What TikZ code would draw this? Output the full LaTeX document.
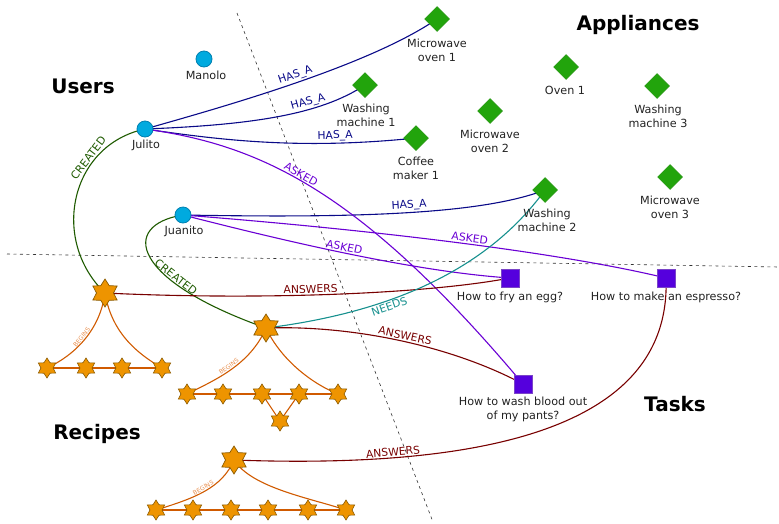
\documentclass[tikz,border=0pt]{standalone}
\usepackage{fontspec}
\setmainfont{DejaVu Sans}
\usetikzlibrary{shapes.geometric,backgrounds}
\definecolor{userfill}{HTML}{00AADF}
\definecolor{userdraw}{HTML}{0080B0}
\definecolor{applfill}{HTML}{22A40C}
\definecolor{appldraw}{HTML}{1E900A}
\definecolor{taskfill}{HTML}{5500DD}
\definecolor{taskdraw}{HTML}{7A44C8}
\definecolor{starfill}{HTML}{EE9400}
\definecolor{stardraw}{HTML}{8A5A00}
\definecolor{hascol}{HTML}{0A0A88}
\definecolor{askcol}{HTML}{6A00D4}
\definecolor{createcol}{HTML}{1E5A00}
\definecolor{anscol}{HTML}{780000}
\definecolor{needcol}{HTML}{16908E}
\definecolor{begcol}{HTML}{D05A00}
\definecolor{beglab}{HTML}{E89050}
\definecolor{txtcol}{HTML}{222222}
\begin{document}
\begin{tikzpicture}[x=1pt,y=-1pt,
  user/.style={circle, fill=userfill, draw=userdraw, line width=0.8pt, minimum size=16pt, inner sep=0pt},
  appl/.style={diamond, fill=applfill, draw=appldraw, line width=0.5pt, minimum width=25pt, minimum height=25pt, inner sep=0pt},
  task/.style={rectangle, fill=taskfill, draw=taskdraw, line width=0.8pt, minimum size=18pt, inner sep=0pt},
  bigstar/.style={star, star points=6, star point ratio=1.65, fill=starfill, draw=stardraw, line width=0.7pt, minimum size=28pt, inner sep=0pt},
  smallstar/.style={star, star points=6, star point ratio=1.65, fill=starfill, draw=stardraw, line width=0.6pt, minimum size=20pt, inner sep=0pt},
  txt/.style={font=\fontsize{11.2}{14}\selectfont, text=txtcol, align=center, inner sep=0pt},
  ttl/.style={font=\fontsize{20}{24}\selectfont\bfseries, text=black, inner sep=0pt},
  elab/.style={font=\fontsize{10.8}{12}\selectfont, sloped, above, inner sep=1.2pt},
  blab/.style={font=\fontsize{6}{7}\selectfont, sloped, above, inner sep=1pt, text=beglab},
  has/.style={draw=hascol, line width=1.1pt},
  ask/.style={draw=askcol, line width=1.1pt},
  cre/.style={draw=createcol, line width=1.1pt},
  ans/.style={draw=anscol, line width=1.1pt},
  need/.style={draw=needcol, line width=1.1pt},
  beg/.style={draw=begcol, line width=1.1pt},
  sep/.style={draw=black!80, line width=0.6pt, dash pattern=on 3pt off 3.5pt}
]
\useasboundingbox (0,0) rectangle (779,523);

% titles
\node[ttl] (tusers) at (83,86) {Users};
\node[ttl] (tappl) at (638,25) {Appliances};
\node[ttl] (trec) at (97,434) {Recipes};
\node[ttl] (ttask) at (675,404) {Tasks};

% separators
\coordinate (s1a) at (237,13);
\coordinate (s1b) at (433,522);
\coordinate (s2a) at (7,254);
\coordinate (s2b) at (779,267);

% users
\node[user] (manolo) at (204,59) {};
\node[txt] (manolot) at (206,75) {Manolo};
\node[user] (julito) at (145,129) {};
\node[txt] (julitot) at (146,145) {Julito};
\node[user] (juanito) at (183,215) {};
\node[txt] (juanitot) at (184,231) {Juanito};

% appliances
\node[appl] (mw1) at (437,19) {};
\node[txt] (mw1t) at (437,50) {Microwave\\oven 1};
\node[appl] (wm1) at (365,85) {};
\node[txt] (wm1t) at (366,115) {Washing\\machine 1};
\node[appl] (cm1) at (416,138) {};
\node[txt] (cm1t) at (416,168) {Coffee\\maker 1};
\node[appl] (mw2) at (490,111) {};
\node[txt] (mw2t) at (490,141) {Microwave\\oven 2};
\node[appl] (ov1) at (566,67) {};
\node[txt] (ov1t) at (565,90) {Oven 1};
\node[appl] (wm3) at (657,86) {};
\node[txt] (wm3t) at (658,116) {Washing\\machine 3};
\node[appl] (wm2) at (545,190) {};
\node[txt] (wm2t) at (547,220) {Washing\\machine 2};
\node[appl] (mw3) at (670,177) {};
\node[txt] (mw3t) at (670,207) {Microwave\\oven 3};

% tasks
\node[task] (egg) at (510,278) {};
\node[txt] (eggt) at (510,297) {How to fry an egg?};
\node[task] (esp) at (666,278) {};
\node[txt] (espt) at (666,297) {How to make an espresso?};
\node[task] (blood) at (523,384) {};
\node[txt] (bloodt) at (523,409) {How to wash blood out\\of my pants?};

% recipes
\node[bigstar] (r1) at (105,293) {};
\node[smallstar] (r1a) at (47,368) {};
\node[smallstar] (r1b) at (86,368) {};
\node[smallstar] (r1c) at (122,368) {};
\node[smallstar] (r1d) at (162,368) {};

\node[bigstar] (r2) at (266,328) {};
\node[smallstar] (r2a) at (187,394) {};
\node[smallstar] (r2b) at (223,394) {};
\node[smallstar] (r2c) at (262,394) {};
\node[smallstar] (r2d) at (299,394) {};
\node[smallstar] (r2e) at (338,394) {};
\node[smallstar] (r2f) at (280,421) {};

\node[bigstar] (r3) at (234,460) {};
\node[smallstar] (r3a) at (156,510) {};
\node[smallstar] (r3b) at (193,510) {};
\node[smallstar] (r3c) at (231,510) {};
\node[smallstar] (r3d) at (268,510) {};
\node[smallstar] (r3e) at (308,510) {};
\node[smallstar] (r3f) at (346,510) {};

\begin{scope}[on background layer]
\draw[sep] (s1a) -- (s1b);
\draw[sep] (s2a) -- (s2b);

% HAS_A
\draw[has] (julito.center) .. controls (230,105) and (370,65) .. (mw1.center)
  node[elab, pos=0.5, text=hascol] {HAS\_A};
\draw[has] (julito.center) .. controls (250,125) and (320,115) .. (wm1.center)
  node[elab, pos=0.66, text=hascol] {HAS\_A};
\draw[has] (julito.center) .. controls (220,140) and (300,150) .. (cm1.center)
  node[elab, pos=0.75, text=hascol] {HAS\_A};
\draw[has] (juanito.center) .. controls (350,218) and (480,215) .. (wm2.center)
  node[elab, pos=0.52, text=hascol] {HAS\_A};

% ASKED
\draw[ask] (julito.center) .. controls (260,145) and (360,190) .. (blood.center)
  node[elab, pos=0.45, text=askcol] {ASKED};
\draw[ask] (juanito.center) .. controls (300,245) and (420,272) .. (egg.center)
  node[elab, pos=0.46, text=askcol] {ASKED};
\draw[ask] (juanito.center) .. controls (350,228) and (550,250) .. (esp.center)
  node[elab, pos=0.55, text=askcol] {ASKED};

% CREATED
\draw[cre] (julito.center) .. controls (70,145) and (50,240) .. (r1.center)
  node[elab, pos=0.3, text=createcol] {CREATED};
\draw[cre] (juanito.center) .. controls (120,225) and (130,280) .. (r2.center)
  node[elab, pos=0.68, text=createcol] {CREATED};

% ANSWERS
\draw[ans] (r1.center) .. controls (250,300) and (420,295) .. (egg.center)
  node[elab, pos=0.46, text=anscol] {ANSWERS};
\draw[ans] (r2.center) .. controls (350,325) and (450,345) .. (blood.center)
  node[elab, pos=0.52, text=anscol] {ANSWERS};
\draw[ans] (r3.center) .. controls (480,469) and (672,430) .. (esp.center)
  node[elab, pos=0.23, text=anscol] {ANSWERS};

% NEEDS
\draw[need] (r2.center) .. controls (370,315) and (480,280) .. (wm2.center)
  node[elab, below, pos=0.39, text=needcol] {NEEDS};

% BEGINS and chains
\draw[beg] (r1.center) .. controls (100,330) and (75,355) .. (r1a.center)
  node[blab, pos=0.5] {BEGINS};
\draw[beg] (r1.center) .. controls (112,335) and (140,355) .. (r1d.center);
\draw[beg] (r1a.center) -- (r1b.center) -- (r1c.center) -- (r1d.center);

\draw[beg] (r2.center) .. controls (250,365) and (215,380) .. (r2a.center)
  node[blab, pos=0.5] {BEGINS};
\draw[beg] (r2.center) .. controls (282,362) and (315,385) .. (r2e.center);
\draw[beg] (r2a.center) -- (r2b.center) -- (r2c.center) -- (r2d.center) -- (r2e.center);
\draw[beg] (r2c.center) -- (r2f.center) -- (r2d.center);

\draw[beg] (r3.center) .. controls (222,488) and (195,498) .. (r3a.center)
  node[blab, pos=0.5] {BEGINS};
\draw[beg] (r3.center) .. controls (252,488) and (310,498) .. (r3f.center);
\draw[beg] (r3a.center) -- (r3b.center) -- (r3c.center) -- (r3d.center) -- (r3e.center) -- (r3f.center);
\end{scope}
\end{tikzpicture}
\end{document}
